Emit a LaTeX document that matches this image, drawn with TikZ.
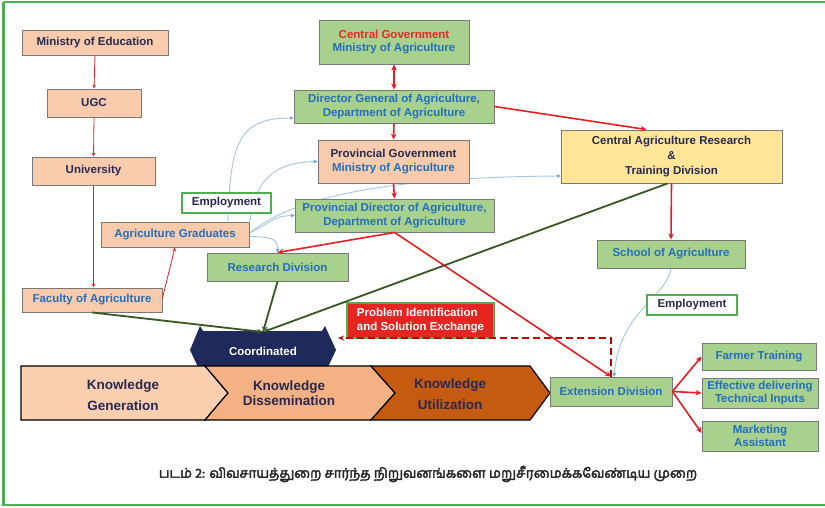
\documentclass[tikz,border=0pt]{standalone}
\usepackage{fontspec}
\setmainfont{Liberation Sans}
\newfontfamily\tamilfont[Script=Tamil,FakeBold=3]{Hind Madurai}
\usetikzlibrary{arrows.meta,calc}
\definecolor{frameG}{RGB}{76,175,80}
\definecolor{boxline}{RGB}{120,120,120}
\definecolor{peach}{RGB}{248,203,173}
\definecolor{leaf}{RGB}{169,209,142}
\definecolor{sand}{RGB}{255,230,153}
\definecolor{navyT}{RGB}{40,40,80}
\definecolor{blueT}{RGB}{35,110,190}
\definecolor{redT}{RGB}{232,40,36}
\definecolor{redA}{RGB}{230,30,35}
\definecolor{darkred}{RGB}{192,0,0}
\definecolor{olive}{RGB}{56,87,35}
\definecolor{skyline}{RGB}{165,198,222}
\definecolor{skytip}{RGB}{90,150,200}
\definecolor{chevA}{RGB}{249,207,176}
\definecolor{chevB}{RGB}{244,177,131}
\definecolor{chevC}{RGB}{197,90,17}
\definecolor{navyF}{RGB}{31,42,92}
\definecolor{probred}{RGB}{229,37,33}
\newcommand\bxfont{\bfseries\fontsize{11.5}{13.5}\selectfont}
\newcommand\chevfont{\bfseries\fontsize{13.5}{15}\selectfont}
\pgfdeclarelayer{bg}
\pgfsetlayers{bg,main}
\begin{document}
\begin{tikzpicture}[x=1pt,y=-1pt,
  bx/.style={draw=boxline, line width=0.9pt, inner sep=1pt, align=center, font=\bxfont, text=navyT},
  obox/.style={bx, fill=peach},
  gbox/.style={bx, fill=leaf, text=blueT},
  ybox/.style={bx, fill=sand},
  ebox/.style={bx, fill=white, draw=frameG, line width=1.6pt},
  thinred/.style={draw=redA, line width=0.8pt, -{Stealth[length=4pt,width=3.5pt]}},
  thickred/.style={draw=redA, line width=1.6pt, -{Stealth[length=6pt,width=5.5pt]}},
  oliveline/.style={draw=olive, line width=1.8pt, -{Stealth[length=6pt,width=5pt]}},
  sky/.style={draw=skyline, line width=0.9pt, -{Stealth[length=4pt,width=3.5pt,color=skytip]}},
  chev/.style={draw=black, line width=1.2pt},
  chevtext/.style={font=\chevfont, text=navyT, align=center}
]
\useasboundingbox (0,0) rectangle (825,508);
\begin{pgfonlayer}{bg}
\fill[white] (0,0) rectangle (825,508);
\end{pgfonlayer}
\draw[frameG, line width=2.6pt] (3.5,2) -- (3.5,505) -- (830,505);
\draw[frameG, line width=2.6pt] (3.5,2) -- (830,2);

% left column
\node[obox, minimum width=146, minimum height=25] (moe) at (95,42.5) {Ministry of Education};
\node[obox, minimum width=94, minimum height=28] (ugc) at (94,103) {UGC};
\node[obox, minimum width=123, minimum height=28] (univ) at (93.5,171) {University};
\node[obox, text=blueT, minimum width=140, minimum height=24] (fac) at (92,300) {Faculty of Agriculture};
\node[obox, text=blueT, minimum width=148, minimum height=25] (grad) at (175,234.5) {Agriculture Graduates};
\node[ebox, minimum width=89, minimum height=20] (empA) at (226.5,203) {Employment};

% centre column
\node[gbox, minimum width=150, minimum height=44] (cg) at (394,42) {\textcolor{redT}{Central Government}\\\textcolor{blueT}{Ministry of Agriculture}};
\node[gbox, minimum width=200, minimum height=33] (dg) at (394,106.5) {Director General of Agriculture,\\Department of Agriculture};
\node[obox, minimum width=151, minimum height=43] (pg) at (393.5,161.5) {\textcolor{navyT}{Provincial Government}\\\textcolor{blueT}{Ministry of Agriculture}};
\node[gbox, minimum width=199, minimum height=33] (pd) at (394.5,215.5) {Provincial Director of Agriculture,\\Department of Agriculture};
\node[gbox, minimum width=141, minimum height=28] (rd) at (277.5,267) {Research Division};

% right column
\node[ybox, minimum width=221, minimum height=53] (carc) at (671.5,156.5) {Central Agriculture Research\\[1.5pt]\&\\[1.5pt]Training Division};
\node[gbox, minimum width=148, minimum height=28] (soa) at (671,254) {School of Agriculture};
\node[ebox, minimum width=90, minimum height=20] (empB) at (692,305) {Employment};
\node[bx, fill=probred, draw=frameG, line width=1.4pt, text=white, align=left, minimum width=147, minimum height=35] (pis) at (420.5,320.5) {Problem Identification\\and Solution Exchange};

% coordinated hexagon
\fill[navyF] (200,326) -- (203,331) -- (322,331) -- (325,326) -- (336,350) -- (328,367) -- (198,367) -- (190,350) -- cycle;
\node[font=\bxfont, text=white] (coord) at (263,351) {Coordinated};
\coordinate (cpt) at (263,332);
\coordinate (coordR) at (338,338);

% chevrons
\draw[chev, fill=chevA] (21,366) -- (205,366) -- (228,393) -- (205,420) -- (21,420) -- cycle;
\draw[chev, fill=chevB] (205,366) -- (371,366) -- (395,393) -- (371,420) -- (205,420) -- (228,393) -- cycle;
\draw[chev, fill=chevC] (371,366) -- (530,366) -- (550,393) -- (530,420) -- (371,420) -- (395,393) -- cycle;
\node[chevtext] (kg) at (123,395.5) {Knowledge\\[6pt]Generation};
\node[chevtext] (kd) at (289,393.5) {Knowledge\\Dissemination};
\node[chevtext] (ku) at (450,394.5) {Knowledge\\[6pt]Utilization};

% extension side
\node[gbox, minimum width=122, minimum height=29] (ext) at (611,391.5) {Extension Division};
\node[gbox, minimum width=114, minimum height=27] (ft) at (759,356.5) {Farmer Training};
\node[gbox, minimum width=116, minimum height=30, font=\bfseries\fontsize{11.5}{12.5}\selectfont] (etd) at (760,393) {Effective delivering\\Technical Inputs};
\node[gbox, minimum width=116, minimum height=30, font=\bfseries\fontsize{11.5}{12.5}\selectfont] (ma) at (760,436) {Marketing\\Assistant};

% caption
\node[font=\tamilfont\fontsize{13.4}{15}\selectfont, text=black!85] (cap) at (428,474) {படம் 2: விவசாயத்துறை சார்ந்த நிறுவனங்களை மறுசீரமைக்கவேண்டிய முறை};

% thin red arrows
\draw[thinred] (moe.south) -- (ugc.north);
\draw[thinred] (ugc.south) -- (univ.north);
\draw[thinred] (univ.south) -- (univ.south |- fac.north);
\draw[thinred] ([yshift=2pt]fac.east) -- (grad.south);

% thick red arrows
\draw[draw=redA, line width=1.6pt, {Stealth[length=6pt,width=5.5pt]}-{Stealth[length=6pt,width=5.5pt]}] (cg.south) -- (dg.north);
\draw[thickred] (dg.south) -- (pg.north);
\draw[thickred] (pg.south) -- (pd.north);
\draw[thickred] (dg.east) -- ([xshift=86pt]carc.north west);
\draw[thickred] (pd.south) -- (rd.north);
\draw[thickred] (pd.south) -- (ext.north);
\draw[thickred] (carc.south) -- (soa.north);
\draw[thickred] (ext.east) -- (ft.west);
\draw[thickred] (ext.east) -- (etd.west);
\draw[thickred] (ext.east) -- ([yshift=3pt]ma.west);

% olive lines to coordinated
\draw[oliveline] (fac.south) -- (cpt);
\draw[oliveline] (rd.south) -- (cpt);
\draw[oliveline] ([xshift=-4pt]carc.south) -- (cpt);

% dashed feedback
\draw[darkred, line width=1.3pt, dash pattern=on 7pt off 4pt, -{Stealth[length=6pt,width=5pt]}] (ext.north) |- (coordR);

% thin sky curves (behind boxes)
\begin{pgfonlayer}{bg}
\draw[sky] ([xshift=53pt]grad.north) .. controls (230,140) and (240,118) .. ([yshift=-11.5pt]dg.west);
\draw[sky] ([xshift=75pt]grad.north) .. controls (255,175) and (280,162) .. (pg.west);
\draw[sky] ([yshift=2pt]grad.east) .. controls (270,225) and (270,216) .. (pd.west);
\draw[sky] ([yshift=-2pt]grad.east) .. controls (275,237) and (278,240) .. (rd.north);
\draw[sky] ([yshift=1pt]grad.east) .. controls (300,190) and (420,177) .. ([yshift=-19.5pt]carc.west);
\draw[sky] (soa.south) .. controls (665,300) and (620,310) .. ([xshift=3pt]ext.north);
\end{pgfonlayer}
\end{tikzpicture}
\end{document}
